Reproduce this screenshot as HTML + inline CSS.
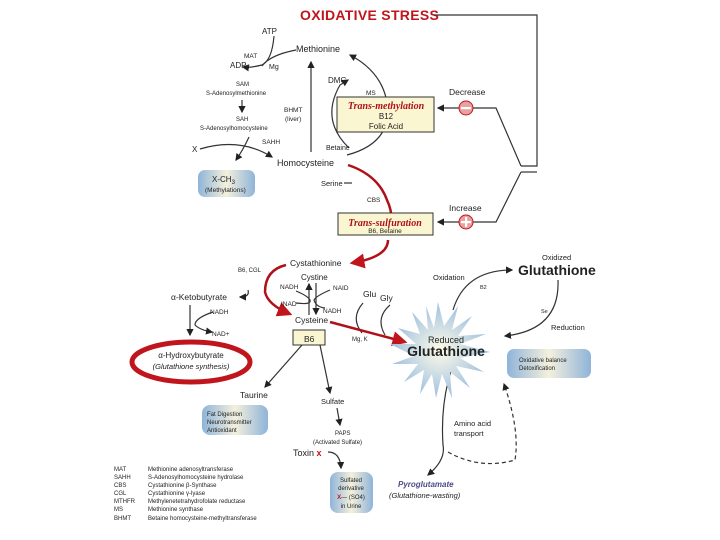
<!DOCTYPE html>
<html><head><meta charset="utf-8"><style>
html,body{margin:0;padding:0;background:#fff;}
svg{display:block;font-family:"Liberation Sans",sans-serif;}
</style></head><body>
<svg width="720" height="540" viewBox="0 0 720 540" xmlns="http://www.w3.org/2000/svg">
<defs>
<marker id="a" markerWidth="6" markerHeight="6" refX="5" refY="3" orient="auto"><path d="M0,0 L6,3 L0,6 z" fill="#222"/></marker>
<marker id="r" markerWidth="6" markerHeight="6" refX="5" refY="3" orient="auto"><path d="M0,0 L6,3 L0,6 z" fill="#c0151c"/></marker>
<radialGradient id="sg" cx="50%" cy="50%" r="50%"><stop offset="0" stop-color="#fffbe8"/><stop offset="1" stop-color="#9ec0e0"/></radialGradient>
<linearGradient id="bg1" x1="0" x2="1"><stop offset="0" stop-color="#8fb4da"/><stop offset="0.5" stop-color="#f4f0dc"/><stop offset="1" stop-color="#8fb4da"/></linearGradient>
</defs>
<text x="300" y="20" font-size="14" font-weight="bold" fill="#c0151c" letter-spacing="0.3">OXIDATIVE STRESS</text>
<g fill="none" stroke="#333" stroke-width="1.2">
<path d="M434,15 H537 V166 H521"/>
<path d="M521,166 L496,108 H438" marker-end="url(#a)"/>
<path d="M521,172 L496,222 H438" marker-end="url(#a)"/>
<path d="M521,172 H537"/>
<path d="M311,152 V62" marker-end="url(#a)"/>
<path d="M274,36 Q272,60 262,65 Q250,68 243,67" marker-end="url(#a)"/>
<path d="M296,50 Q270,55 262,66"/>
<path d="M242,100 V112" marker-end="url(#a)"/>
<path d="M200,149 Q240,137 272,157" marker-end="url(#a)"/>
<path d="M249,137 Q243,150 236,160" marker-end="url(#a)"/>
<path d="M349,148 Q320,120 340,85 L348,80" marker-end="url(#a)"/>
<path d="M347,155 Q385,145 388,115 Q388,75 350,55" marker-end="url(#a)"/>
<path d="M344,183 H352"/>
<path d="M248,290 Q250,297 240,297" marker-end="url(#a)"/>
<path d="M190,305 V335" marker-end="url(#a)"/>
<path d="M213,312 Q195,318 195,325 Q200,330 212,332" marker-end="url(#a)"/>
<path d="M309,315 V284" marker-end="url(#a)"/>
<path d="M316,283 V314" marker-end="url(#a)"/>
<path d="M296,291 Q308,296 310,300 Q312,305 296,303"/>
<path d="M330,290 Q316,296 314,300 Q316,307 325,308"/>
<path d="M302,345 L265,387" marker-end="url(#a)"/>
<path d="M320,345 L330,393" marker-end="url(#a)"/>
<path d="M337,408 L340,425" marker-end="url(#a)"/>
<path d="M328,452 Q340,452 341,468" marker-end="url(#a)"/>
<path d="M363,303 Q350,318 362,333"/>
<path d="M390,305 Q375,318 385,335"/>
<path d="M453,310 Q465,270 512,270" marker-end="url(#a)"/>
<path d="M558,280 Q560,330 505,336" marker-end="url(#a)"/>
<path d="M454,362 Q440,400 443,445 Q446,460 428,475" marker-end="url(#a)"/>
<path d="M448,452 Q480,470 515,460 Q520,430 504,384" stroke-dasharray="4,3" marker-end="url(#a)"/>
</g>
<g fill="none" stroke="#b01018" stroke-width="2.5">
<path d="M348,165 Q378,175 387,200 Q394,215 390,228"/>
<path d="M388,240 Q388,257 352,263" marker-end="url(#r)"/>
<path d="M286,265 Q265,270 265,292 Q268,305 290,314" marker-end="url(#r)"/>
<path d="M330,322 L405,342" marker-end="url(#r)"/>
</g>
<ellipse cx="191" cy="362" rx="59" ry="20" fill="none" stroke="#c0151c" stroke-width="5"/>
<rect x="337" y="97" width="97" height="35" fill="#fbf6d2" stroke="#333"/>
<rect x="338" y="213" width="95" height="22" fill="#fbf6d2" stroke="#333"/>
<rect x="293" y="330" width="32" height="15" fill="#fbf6d2" stroke="#333"/>
<rect x="198" y="170" width="57" height="27" rx="7" fill="url(#bg1)"/>
<rect x="202" y="405" width="66" height="30" rx="8" fill="url(#bg1)"/>
<rect x="507" y="349" width="84" height="29" rx="7" fill="url(#bg1)"/>
<rect x="330" y="472" width="43" height="41" rx="8" fill="url(#bg1)"/>
<polygon fill="url(#sg)" points="438,302 444,326 458,306 452,330 472,316 458,336 486,334 460,344 490,352 460,358 484,372 456,366 470,388 450,372 452,398 442,374 436,398 432,374 420,394 424,370 404,382 418,364 392,364 414,356 390,344 416,344 398,328 420,334 412,312 428,330 426,306 434,328"/>
<circle cx="466" cy="108" r="7" fill="#e8a0a0" stroke="#c0151c"/><rect x="461" y="107" width="10" height="2.2" fill="#fff"/>
<circle cx="466" cy="222" r="7" fill="#e8a0a0" stroke="#c0151c"/><rect x="461" y="221" width="10" height="2.2" fill="#fff"/><rect x="465" y="217" width="2.2" height="10" fill="#fff"/>
<g fill="#222" font-size="8">
<text x="262" y="34">ATP</text>
<text x="244" y="58" font-size="6.5">MAT</text>
<text x="230" y="68">ADP</text>
<text x="269" y="69" font-size="7">Mg</text>
<text x="296" y="52" font-size="9">Methionine</text>
<text x="236" y="86" font-size="6">SAM</text>
<text x="206" y="95" font-size="6">S-Adenosylmethionine</text>
<text x="236" y="121" font-size="6">SAH</text>
<text x="200" y="130" font-size="6">S-Adenosylhomocysteine</text>
<text x="262" y="144" font-size="6.5">SAHH</text>
<text x="192" y="152">X</text>
<text x="277" y="166" font-size="9">Homocysteine</text>
<text x="212" y="182" font-size="8">X-CH<tspan font-size="6" dy="2">3</tspan></text>
<text x="205" y="192" font-size="6.5">(Methylations)</text>
<text x="284" y="112" font-size="6.5">BHMT</text>
<text x="285" y="121" font-size="6.5">(liver)</text>
<text x="328" y="83">DMG</text>
<text x="366" y="95" font-size="6.5">MS</text>
<text x="386" y="109" font-size="10" fill="#b01018" font-style="italic" font-weight="bold" font-family="Liberation Serif,serif" text-anchor="middle">Trans-methylation</text>
<text x="386" y="119" text-anchor="middle">B12</text>
<text x="386" y="129" text-anchor="middle">Folic Acid</text>
<text x="326" y="150" font-size="7">Betaine</text>
<text x="321" y="186" font-size="7.5">Serine</text>
<text x="367" y="202" font-size="6.5">CBS</text>
<text x="385" y="226" font-size="10" fill="#b01018" font-style="italic" font-weight="bold" font-family="Liberation Serif,serif" text-anchor="middle">Trans-sulfuration</text>
<text x="385" y="233" font-size="6.5" text-anchor="middle">B6, Betaine</text>
<text x="449" y="95" font-size="8.5">Decrease</text>
<text x="449" y="211" font-size="8.5">Increase</text>
<text x="290" y="266" font-size="8.5">Cystathionine</text>
<text x="238" y="272" font-size="6">B6, CGL</text>
<text x="301" y="280" font-size="8">Cystine</text>
<text x="280" y="289" font-size="6.5">NADH</text>
<text x="333" y="290" font-size="6.5">NAID</text>
<text x="281" y="306" font-size="6.5">INAD</text>
<text x="323" y="313" font-size="6.5">NADH</text>
<text x="295" y="323" font-size="8.5">Cysteine</text>
<text x="304" y="342" font-size="8.5">B6</text>
<text x="171" y="300" font-size="8.5">α-Ketobutyrate</text>
<text x="210" y="314" font-size="6.5">NADH</text>
<text x="212" y="336" font-size="6.5">NAD+</text>
<text x="191" y="358" font-size="8" text-anchor="middle">α-Hydroxybutyrate</text>
<text x="191" y="369" font-size="7.5" font-style="italic" text-anchor="middle">(Glutathione synthesis)</text>
<text x="363" y="297" font-size="8.5">Glu</text>
<text x="380" y="301" font-size="8.5">Gly</text>
<text x="352" y="341" font-size="6">Mg, K</text>
<text x="446" y="343" font-size="9" text-anchor="middle">Reduced</text>
<text x="446" y="356" font-size="14" font-weight="bold" text-anchor="middle">Glutathione</text>
<text x="433" y="280" font-size="7.5">Oxidation</text>
<text x="480" y="289" font-size="5.5">B2</text>
<text x="542" y="260" font-size="7.5">Oxidized</text>
<text x="518" y="275" font-size="14" font-weight="bold">Glutathione</text>
<text x="541" y="313" font-size="5.5">Se</text>
<text x="551" y="330" font-size="7.5">Reduction</text>
<text x="519" y="362" font-size="6">Oxidative balance</text>
<text x="519" y="370" font-size="6">Detoxification</text>
<text x="454" y="426" font-size="7.5">Amino acid</text>
<text x="454" y="436" font-size="7.5">transport</text>
<text x="398" y="487" font-size="8" font-style="italic" font-weight="bold" fill="#4a4a8a">Pyroglutamate</text>
<text x="389" y="498" font-size="7.5" font-style="italic">(Glutathione-wasting)</text>
<text x="240" y="398" font-size="8.5">Taurine</text>
<text x="321" y="404" font-size="7.5">Sulfate</text>
<text x="207" y="416" font-size="6">Fat Digestion</text>
<text x="207" y="424" font-size="6">Neurotransmitter</text>
<text x="207" y="432" font-size="6">Antioxidant</text>
<text x="335" y="435" font-size="6">PAPS</text>
<text x="313" y="444" font-size="6">(Activated Sulfate)</text>
<text x="293" y="456" font-size="9">Toxin <tspan fill="#c0151c" font-weight="bold">x</tspan></text>
<text x="351" y="482" font-size="6" text-anchor="middle">Sulfated</text>
<text x="351" y="490" font-size="6" text-anchor="middle">derivative</text>
<text x="351" y="499" font-size="6" text-anchor="middle"><tspan fill="#c0151c" font-weight="bold">X</tspan>— (SO4)</text>
<text x="351" y="508" font-size="6" text-anchor="middle">in Urine</text>
</g>
<g fill="#222" font-size="6">
<text x="114" y="471">MAT</text><text x="148" y="471">Methionine adenosyltransferase</text>
<text x="114" y="479">SAHH</text><text x="148" y="479">S-Adenosylhomocysteine hydrolase</text>
<text x="114" y="487">CBS</text><text x="148" y="487">Cystathionine β-Synthase</text>
<text x="114" y="495">CGL</text><text x="148" y="495">Cystathionine γ-lyase</text>
<text x="114" y="503">MTHFR</text><text x="148" y="503">Methylenetetrahydrofolate reductase</text>
<text x="114" y="511">MS</text><text x="148" y="511">Methionine synthase</text>
<text x="114" y="520">BHMT</text><text x="148" y="520">Betaine homocysteine-methyltransferase</text>
</g>
</svg>
</body></html>
